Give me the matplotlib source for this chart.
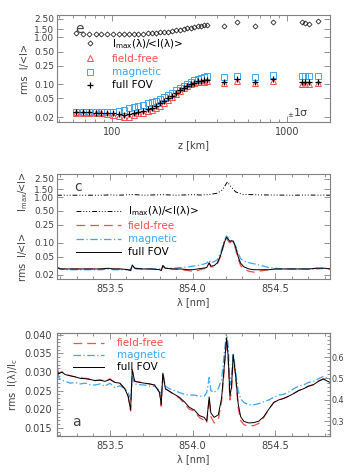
import numpy as np
import matplotlib
matplotlib.use("Agg")
import matplotlib.pyplot as plt
from matplotlib.ticker import FixedLocator, NullLocator, MultipleLocator

RED = "#ff4d4d"
BLUE = "#3aa6f5"
GREY = "#808080"
TXT = "#404040"

plt.rcParams["font.family"] = ["DejaVu Sans"]
plt.rcParams["font.size"] = 7
plt.rcParams["axes.edgecolor"] = GREY
plt.rcParams["axes.labelcolor"] = TXT
plt.rcParams["xtick.color"] = GREY
plt.rcParams["ytick.color"] = GREY
plt.rcParams["xtick.labelcolor"] = TXT
plt.rcParams["ytick.labelcolor"] = TXT

# ---- panel e: rms contrast vs height ----
z_km = [62, 68.5, 74, 81, 87, 94, 102, 110, 117, 125, 133, 141, 150, 160, 169,
        178, 189, 199, 210, 221, 232, 245, 257, 270, 283, 296, 309, 322, 337, 351,
        438, 516, 656, 836, 1213, 1265, 1328, 1510]
imax_z = [1.23, 1.18, 1.18, 1.18, 1.18, 1.18, 1.18, 1.18, 1.19, 1.19, 1.2, 1.2, 1.21, 1.22, 1.24,
          1.26, 1.28, 1.3, 1.33, 1.37, 1.41, 1.46, 1.5, 1.55, 1.61, 1.67, 1.73, 1.79, 1.84, 1.88,
          1.77, 2.16, 1.77, 2.13, 2.13, 2.05, 1.96, 2.19]
free_z = [0.025, 0.025, 0.025, 0.024, 0.024, 0.023, 0.022, 0.021, 0.020, 0.0205, 0.022, 0.024, 0.025, 0.027, 0.029,
          0.031, 0.035, 0.040, 0.046, 0.053, 0.061, 0.071, 0.082, 0.093, 0.100, 0.106, 0.110, 0.113, 0.114, 0.115,
          0.105, 0.119, 0.105, 0.119, 0.102, 0.102, 0.102, 0.105]
mag_z = [0.026, 0.026, 0.026, 0.026, 0.026, 0.026, 0.026, 0.027, 0.029, 0.031, 0.033, 0.034, 0.036, 0.039, 0.042,
         0.045, 0.049, 0.054, 0.060, 0.066, 0.074, 0.083, 0.092, 0.102, 0.112, 0.122, 0.131, 0.139, 0.144, 0.147,
         0.146, 0.153, 0.146, 0.158, 0.150, 0.153, 0.150, 0.150]
full_z = [0.026, 0.026, 0.026, 0.025, 0.025, 0.024, 0.024, 0.023, 0.022, 0.023, 0.024, 0.026, 0.027, 0.030, 0.032,
          0.035, 0.039, 0.044, 0.050, 0.057, 0.065, 0.074, 0.083, 0.094, 0.102, 0.109, 0.115, 0.120, 0.123, 0.124,
          0.114, 0.128, 0.114, 0.128, 0.114, 0.114, 0.114, 0.114]

# ---- panel c: rms contrast vs wavelength (log) ----
lam_c = [853.18, 853.20, 853.25, 853.30, 853.35, 853.40, 853.45, 853.49, 853.52, 853.57,
         853.61, 853.625, 853.635, 853.65, 853.70, 853.75, 853.80, 853.81, 853.82, 853.835,
         853.88, 853.93, 853.97, 854.00, 854.03, 854.06, 854.085, 854.10, 854.11, 854.13,
         854.15, 854.17, 854.19, 854.205, 854.215, 854.225, 854.235, 854.245, 854.26, 854.275,
         854.29, 854.31, 854.34, 854.37, 854.40, 854.43, 854.46, 854.50, 854.55, 854.60,
         854.65, 854.70, 854.75, 854.80, 854.83]
full_c = [0.029, 0.027, 0.027, 0.027, 0.027, 0.027, 0.027, 0.028, 0.027, 0.027,
          0.026, 0.025, 0.033, 0.028, 0.027, 0.027, 0.026, 0.025, 0.032, 0.028,
          0.027, 0.027, 0.026, 0.026, 0.027, 0.028, 0.029, 0.037, 0.031, 0.032,
          0.037, 0.055, 0.100, 0.133, 0.120, 0.108, 0.112, 0.110, 0.080, 0.050,
          0.036, 0.030, 0.027, 0.026, 0.026, 0.026, 0.026, 0.027, 0.027, 0.027,
          0.027, 0.027, 0.028, 0.028, 0.027]
free_c = [0.029, 0.027, 0.027, 0.027, 0.027, 0.027, 0.027, 0.028, 0.027, 0.027,
          0.026, 0.025, 0.033, 0.028, 0.027, 0.027, 0.026, 0.025, 0.032, 0.028,
          0.027, 0.026, 0.025, 0.024, 0.025, 0.027, 0.028, 0.036, 0.030, 0.030,
          0.035, 0.052, 0.095, 0.125, 0.110, 0.100, 0.108, 0.105, 0.072, 0.045,
          0.032, 0.027, 0.024, 0.023, 0.024, 0.025, 0.026, 0.027, 0.027, 0.027,
          0.027, 0.027, 0.028, 0.028, 0.027]
mag_c = [0.030, 0.027, 0.026, 0.026, 0.026, 0.026, 0.026, 0.027, 0.026, 0.026,
         0.026, 0.026, 0.031, 0.027, 0.027, 0.027, 0.027, 0.027, 0.031, 0.028,
         0.028, 0.029, 0.030, 0.031, 0.032, 0.034, 0.036, 0.042, 0.037, 0.039,
         0.043, 0.062, 0.110, 0.143, 0.128, 0.110, 0.112, 0.108, 0.085, 0.060,
         0.045, 0.040, 0.037, 0.035, 0.033, 0.031, 0.029, 0.028, 0.027, 0.027,
         0.027, 0.027, 0.027, 0.028, 0.027]
lam_imax = [853.18, 853.30, 853.45, 853.50, 853.55, 853.64, 853.70, 853.82, 853.90, 854.00,
            854.05, 854.10, 854.15, 854.18, 854.21, 854.23, 854.26, 854.30, 854.40, 854.50,
            854.60, 854.70, 854.83]
imax_c = [1.10, 1.10, 1.10, 1.12, 1.10, 1.14, 1.10, 1.13, 1.10, 1.13,
          1.11, 1.14, 1.22, 1.45, 2.15, 1.70, 1.30, 1.15, 1.12, 1.11,
          1.10, 1.11, 1.10]

# ---- panel a: rms I / Ic vs wavelength ----
lam_a = [853.18, 853.19, 853.21, 853.23, 853.26, 853.29, 853.32, 853.35, 853.38, 853.41,
         853.44, 853.47, 853.50, 853.53, 853.56, 853.59, 853.61, 853.625, 853.635, 853.65,
         853.68, 853.71, 853.74, 853.77, 853.80, 853.81, 853.82, 853.835, 853.86, 853.89,
         853.92, 853.95, 853.98, 854.01, 854.04, 854.07, 854.085, 854.10, 854.11, 854.13,
         854.155, 854.175, 854.19, 854.205, 854.215, 854.225, 854.235, 854.245, 854.26, 854.275,
         854.29, 854.31, 854.34, 854.37, 854.40, 854.43, 854.46, 854.49, 854.52, 854.55,
         854.58, 854.61, 854.64, 854.67, 854.70, 854.73, 854.76, 854.79, 854.83]
full_a = [0.0305, 0.0295, 0.0300, 0.0293, 0.0290, 0.0287, 0.0283, 0.0282, 0.0280, 0.0277,
          0.0278, 0.0275, 0.0280, 0.0272, 0.0270, 0.0255, 0.0235, 0.0198, 0.0305, 0.0275,
          0.0272, 0.0270, 0.0268, 0.0265, 0.0245, 0.0212, 0.0297, 0.0255, 0.0248, 0.0240,
          0.0232, 0.0220, 0.0205, 0.0198, 0.0183, 0.0178, 0.0168, 0.0233, 0.0190, 0.0178,
          0.0185, 0.0230, 0.0310, 0.0392, 0.0340, 0.0235, 0.0260, 0.0347, 0.0290, 0.0215,
          0.0180, 0.0167, 0.0163, 0.0164, 0.0168, 0.0180, 0.0200, 0.0218, 0.0225, 0.0229,
          0.0235, 0.0242, 0.0250, 0.0255, 0.0262, 0.0266, 0.0275, 0.0281, 0.0272]
free_a = [0.0308, 0.0298, 0.0300, 0.0294, 0.0290, 0.0287, 0.0285, 0.0283, 0.0282, 0.0277,
          0.0279, 0.0276, 0.0282, 0.0272, 0.0270, 0.0255, 0.0235, 0.0195, 0.0307, 0.0275,
          0.0273, 0.0270, 0.0268, 0.0265, 0.0245, 0.0208, 0.0300, 0.0255, 0.0248, 0.0238,
          0.0230, 0.0215, 0.0200, 0.0195, 0.0178, 0.0170, 0.0163, 0.0228, 0.0180, 0.0163,
          0.0172, 0.0222, 0.0300, 0.0387, 0.0330, 0.0225, 0.0250, 0.0342, 0.0285, 0.0205,
          0.0170, 0.0158, 0.0155, 0.0156, 0.0162, 0.0178, 0.0200, 0.0218, 0.0225, 0.0229,
          0.0235, 0.0242, 0.0250, 0.0255, 0.0262, 0.0266, 0.0276, 0.0282, 0.0274]
mag_a = [0.0335, 0.0285, 0.0278, 0.0275, 0.0270, 0.0272, 0.0268, 0.0270, 0.0266, 0.0265,
         0.0268, 0.0262, 0.0270, 0.0258, 0.0263, 0.0255, 0.0245, 0.0228, 0.0288, 0.0268,
         0.0266, 0.0265, 0.0262, 0.0262, 0.0250, 0.0240, 0.0290, 0.0262, 0.0255, 0.0250,
         0.0245, 0.0240, 0.0238, 0.0238, 0.0235, 0.0235, 0.0245, 0.0285, 0.0250, 0.0245,
         0.0255, 0.0280, 0.0345, 0.0410, 0.0370, 0.0265, 0.0290, 0.0350, 0.0300, 0.0250,
         0.0228, 0.0218, 0.0212, 0.0212, 0.0215, 0.0220, 0.0225, 0.0232, 0.0238, 0.0240,
         0.0246, 0.0255, 0.0262, 0.0265, 0.0272, 0.0275, 0.0282, 0.0288, 0.0280]

ytick_vals = [0.02, 0.05, 0.10, 0.25, 0.50, 1.00, 1.50, 2.50]
ytick_labs = ["0.02", "0.05", "0.10", "0.25", "0.50", "1.00", "1.50", "2.50"]
imax_lab = r"I$_{\rm max}$(λ)/<I(λ)>"


def style_axes(ax):
    ax.tick_params(which="both", direction="in", top=True, right=True)
    ax.tick_params(which="major", length=4, width=0.6)
    ax.tick_params(which="minor", length=2, width=0.6)
    for s in ax.spines.values():
        s.set_linewidth(0.8)


def set_log_y(ax, lo, hi):
    ax.set_yscale("log")
    ax.set_ylim(lo, hi)
    ax.yaxis.set_major_locator(FixedLocator(ytick_vals))
    ax.yaxis.set_minor_locator(NullLocator())
    ax.set_yticklabels(ytick_labs)
    ax.tick_params(axis="y", labelsize=6.5, pad=2)


fig = plt.figure(figsize=(3.46, 4.72), dpi=100)
ax1 = fig.add_axes([0.1647, 0.7415, 0.789, 0.2267])
ax2 = fig.add_axes([0.1647, 0.4089, 0.789, 0.2225])
ax3 = fig.add_axes([0.1647, 0.0763, 0.789, 0.2182])

# panel e
ax1.plot(z_km, imax_z, ls="none", marker="D", ms=2.6, mfc="none", mec="k", mew=0.5, color="k", label=imax_lab)
ax1.plot(z_km, free_z, ls="none", marker="^", ms=4, mfc="none", mec=RED, mew=0.7, color=RED, label="field-free")
ax1.plot(z_km, mag_z, ls="none", marker="s", ms=4.5, mfc="none", mec=BLUE, mew=0.7, color=BLUE, label="magnetic")
ax1.plot(z_km, full_z, ls="none", marker="+", ms=4.5, mec="k", mew=0.9, color="k", label="full FOV")
ax1.set_xscale("log")
ax1.set_xlim(48.5, 1760)
set_log_y(ax1, 0.0157, 3.0)
ax1.xaxis.set_major_locator(FixedLocator([100, 1000]))
ax1.set_xticklabels(["100", "1000"])
ax1.set_xlabel("z [km]", labelpad=2)
ax1.set_ylabel("rms  I/<I>", labelpad=3)
style_axes(ax1)
ax1.legend(loc="upper left", bbox_to_anchor=(0.06, 0.84), frameon=False, handlelength=2.2,
           handletextpad=1.0, labelspacing=0.3, borderpad=0, labelcolor="linecolor", fontsize=7.5)
ax1.text(0.068, 0.83, "e", transform=ax1.transAxes, fontsize=10, color=TXT)
ax1.text(0.845, 0.05, "±", transform=ax1.transAxes, fontsize=5, color=TXT)
ax1.text(0.868, 0.06, "1σ", transform=ax1.transAxes, fontsize=8, color=TXT)

# panel c
ax2.plot(lam_imax, imax_c, color="k", lw=0.7, ls=(0, (5, 2, 1, 2, 1, 2, 1, 2)), label=imax_lab)
ax2.plot(lam_c, free_c, color=RED, lw=0.9, ls=(0, (7, 4)), label="field-free")
ax2.plot(lam_c, mag_c, color=BLUE, lw=0.9, ls=(0, (6, 2, 1, 2)), label="magnetic")
ax2.plot(lam_c, full_c, color="k", lw=0.7, label="full FOV")
ax2.set_xlim(853.18, 854.83)
set_log_y(ax2, 0.0163, 3.2)
ax2.xaxis.set_major_locator(FixedLocator([853.5, 854.0, 854.5]))
ax2.xaxis.set_minor_locator(MultipleLocator(0.1))
ax2.set_xticklabels(["853.5", "854.0", "854.5"])
ax2.set_xlabel("λ [nm]", labelpad=2)
ax2.set_ylabel("rms  I/<I>       I$_{\\rm max}$/<I>", labelpad=3)
style_axes(ax2)
leg2 = ax2.legend(loc="upper left", bbox_to_anchor=(0.05, 0.76), frameon=False, handlelength=4.3,
                  handletextpad=0.7, labelspacing=0.3, borderpad=0, fontsize=7.5)
for t, c in zip(leg2.get_texts(), ["k", RED, BLUE, "k"]):
    t.set_color(c)
ax2.text(0.065, 0.84, "c", transform=ax2.transAxes, fontsize=10, color=TXT)

# panel a
ax3.plot(lam_a, free_a, color=RED, lw=0.9, ls=(0, (7, 4)), label="field-free")
ax3.plot(lam_a, mag_a, color=BLUE, lw=0.9, ls=(0, (6, 2, 1, 2)), label="magnetic")
ax3.plot(lam_a, full_a, color="k", lw=0.7, label="full FOV")
ax3.set_xlim(853.18, 854.83)
ax3.set_ylim(0.0128, 0.0405)
ax3.yaxis.set_major_locator(FixedLocator([0.015, 0.020, 0.025, 0.030, 0.035, 0.040]))
ax3.set_yticklabels(["0.015", "0.020", "0.025", "0.030", "0.035", "0.040"])
ax3.yaxis.set_minor_locator(MultipleLocator(0.001))
ax3.xaxis.set_major_locator(FixedLocator([853.5, 854.0, 854.5]))
ax3.xaxis.set_minor_locator(MultipleLocator(0.1))
ax3.set_xticklabels(["853.5", "854.0", "854.5"])
ax3.set_xlabel("λ [nm]", labelpad=2)
ax3.set_ylabel("rms  I(λ)/I$_{\\rm c}$", labelpad=3)
style_axes(ax3)
ax3.tick_params(right=False)
leg3 = ax3.legend(loc="upper left", bbox_to_anchor=(0.04, 1.0), frameon=False, handlelength=3.0,
                  handletextpad=1.2, labelspacing=0.2, borderpad=0, fontsize=7.5)
for t, c in zip(leg3.get_texts(), [RED, BLUE, "k"]):
    t.set_color(c)
ax3.text(0.055, 0.1, "a", transform=ax3.transAxes, fontsize=10, color=TXT)

ax3r = ax3.twinx()
ax3r.set_ylim(0.23, 0.713)
ax3r.yaxis.set_major_locator(FixedLocator([0.3, 0.4, 0.5, 0.6]))
ax3r.set_yticklabels(["0.3", "0.4", "0.5", "0.6"])
ax3r.yaxis.set_minor_locator(MultipleLocator(0.02))
ax3r.tick_params(which="both", direction="in")
ax3r.tick_params(which="major", length=4, width=0.6, pad=1, labelsize=5.8)
ax3r.tick_params(which="minor", length=2, width=0.6)

fig.savefig("out.png", dpi=100)
